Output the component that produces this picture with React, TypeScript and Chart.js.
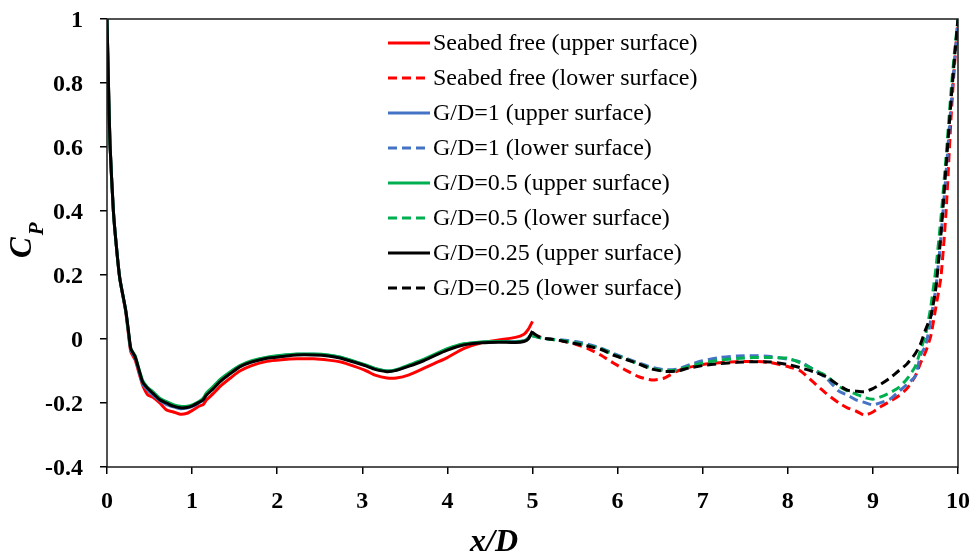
import React, { useEffect, useRef } from "react";
import { Chart, registerables } from "chart.js";

Chart.register(...registerables);

// ---------- data ----------
const upperX = [0, 0.015, 0.035, 0.075, 0.11, 0.15, 0.22, 0.25, 0.28, 0.33, 0.38, 0.42, 0.48, 0.54, 0.62, 0.7, 0.78, 0.86, 0.94, 1.01, 1.08, 1.13, 1.17, 1.25, 1.33, 1.45, 1.56, 1.7, 1.88, 2.05, 2.23, 2.43, 2.6, 2.75, 2.9, 3.05, 3.15, 3.29, 3.4, 3.55, 3.72, 3.85, 4.0, 4.19, 4.4, 4.6, 4.8, 4.9, 4.95, 5.0];

const lowerX = [5.0, 5.1, 5.2, 5.35, 5.5, 5.65, 5.8, 5.95, 6.1, 6.25, 6.4, 6.55, 6.7, 6.85, 7.0, 7.2, 7.4, 7.6, 7.8, 8.0, 8.15, 8.3, 8.45, 8.6, 8.7, 8.8, 8.9, 9.0, 9.1, 9.2, 9.3, 9.4, 9.5, 9.56, 9.62, 9.68, 9.74, 9.8, 9.86, 9.92, 9.96, 10.0];

const freeUpper = [1.0, 0.82, 0.61, 0.40, 0.29, 0.19, 0.085, 0.02, -0.04, -0.065,
  -0.11, -0.145, -0.175, -0.182, -0.2, -0.222, -0.228, -0.235, -0.232, -0.222,
  -0.21, -0.205, -0.19, -0.17, -0.148, -0.122, -0.1, -0.083, -0.07, -0.065,
  -0.062, -0.062, -0.066, -0.072, -0.085, -0.1, -0.113, -0.122, -0.122, -0.112,
  -0.092, -0.076, -0.058, -0.03, -0.012, -0.003, 0.005, 0.015, 0.03, 0.055];

const freeLower = [0.015, 0.005, 0.0, -0.006, -0.016, -0.03, -0.05, -0.075, -0.098, -0.118,
  -0.128, -0.122, -0.1, -0.088, -0.08, -0.074, -0.071, -0.07, -0.074, -0.086,
  -0.1, -0.135, -0.17, -0.2, -0.215, -0.225, -0.238, -0.228, -0.21, -0.195,
  -0.178, -0.155, -0.115, -0.075, -0.04, 0.01, 0.1, 0.195, 0.4, 0.7, 0.86, 1.0];

const gd1Upper = [1.0, 0.82, 0.61, 0.40, 0.29, 0.19, 0.088, 0.025, -0.035, -0.058,
  -0.105, -0.14, -0.16, -0.175, -0.192, -0.205, -0.212, -0.218, -0.216, -0.21,
  -0.2, -0.19, -0.172, -0.15, -0.128, -0.104, -0.085, -0.07, -0.058, -0.052,
  -0.048, -0.048, -0.051, -0.058, -0.07, -0.083, -0.093, -0.1, -0.097, -0.083,
  -0.066, -0.05, -0.032, -0.016, -0.01, -0.008, -0.008, -0.005, 0.003, 0.02];

const gd1Lower = [0.01, 0.004, 0.0, -0.003, -0.008, -0.016, -0.028, -0.045, -0.06, -0.075,
  -0.088, -0.096, -0.094, -0.08, -0.068, -0.058, -0.053, -0.052, -0.055, -0.063,
  -0.072, -0.095, -0.122, -0.163, -0.175, -0.19, -0.198, -0.206, -0.198, -0.188,
  -0.165, -0.142, -0.115, -0.05, -0.02, 0.06, 0.16, 0.32, 0.52, 0.74, 0.87, 1.0];

const gd05Upper = [1.0, 0.82, 0.61, 0.40, 0.29, 0.19, 0.09, 0.028, -0.03, -0.052,
  -0.098, -0.13, -0.152, -0.165, -0.185, -0.196, -0.205, -0.21, -0.21, -0.205,
  -0.195, -0.185, -0.168, -0.148, -0.126, -0.102, -0.083, -0.068, -0.057, -0.051,
  -0.047, -0.047, -0.05, -0.057, -0.069, -0.082, -0.092, -0.1, -0.096, -0.081,
  -0.064, -0.048, -0.03, -0.015, -0.009, -0.008, -0.009, -0.006, 0.002, 0.02];

const gd05Lower = [0.01, 0.003, -0.001, -0.005, -0.012, -0.02, -0.03, -0.048, -0.063, -0.078,
  -0.092, -0.099, -0.097, -0.085, -0.075, -0.066, -0.061, -0.058, -0.058, -0.06,
  -0.075, -0.095, -0.115, -0.148, -0.162, -0.172, -0.183, -0.188, -0.18, -0.168,
  -0.152, -0.125, -0.085, -0.035, 0.015, 0.1, 0.22, 0.38, 0.57, 0.78, 0.9, 1.0];

const gd025Upper = [1.0, 0.82, 0.61, 0.40, 0.29, 0.19, 0.09, 0.03, -0.03, -0.055,
  -0.1, -0.135, -0.155, -0.17, -0.19, -0.2, -0.21, -0.215, -0.214, -0.208,
  -0.198, -0.19, -0.175, -0.155, -0.133, -0.108, -0.087, -0.072, -0.06, -0.055,
  -0.05, -0.05, -0.053, -0.06, -0.072, -0.085, -0.095, -0.102, -0.098, -0.085,
  -0.068, -0.052, -0.035, -0.019, -0.012, -0.01, -0.011, -0.008, 0.0, 0.025];

const gd025Lower = [0.02, 0.003, 0.0, -0.006, -0.014, -0.022, -0.032, -0.05, -0.064, -0.078,
  -0.094, -0.101, -0.1, -0.09, -0.083, -0.077, -0.073, -0.071, -0.072, -0.08,
  -0.09, -0.102, -0.118, -0.145, -0.16, -0.163, -0.165, -0.155, -0.14, -0.122,
  -0.1, -0.078, -0.045, -0.015, 0.03, 0.07, 0.16, 0.33, 0.54, 0.75, 0.88, 1.0];

const seriesLabels = [
  "Seabed free (upper surface)",
  "Seabed free (lower surface)",
  "G/D=1 (upper surface)",
  "G/D=1 (lower surface)",
  "G/D=0.5 (upper surface)",
  "G/D=0.5 (lower surface)",
  "G/D=0.25 (upper surface)",
  "G/D=0.25 (lower surface)",
];

const xTicks = [0, 1, 2, 3, 4, 5, 6, 7, 8, 9, 10];
const yTicks = [-0.4, -0.2, 0, 0.2, 0.4, 0.6, 0.8, 1];

const RED = "#FF0000";
const BLUE = "#4472C4";
const GREEN = "#00B050";
const BLACK = "#000000";
const DASH = [9, 5];
const SERIF = "'Liberation Serif', 'Times New Roman', serif";

function pts(xs: number[], ys: number[]) {
  return xs.map((x, i) => ({ x, y: ys[i] }));
}

const framePlugin = {
  id: "frameAndTitles",
  afterDraw(chart: any) {
    const { ctx, chartArea } = chart;
    const { left, right, top, bottom } = chartArea;
    ctx.save();
    // frame
    ctx.strokeStyle = "#1a1a1a";
    ctx.lineWidth = 1.5;
    ctx.setLineDash([]);
    ctx.strokeRect(left, top, right - left, bottom - top);

    // legend
    const lx0 = 388;
    const lx1 = 430;
    const ly0 = 43;
    const dy = 35;
    ctx.font = `24px ${SERIF}`;
    ctx.textBaseline = "middle";
    ctx.textAlign = "left";
    chart.data.datasets.forEach((ds: any, i: number) => {
      const y = ly0 + dy * i;
      ctx.beginPath();
      ctx.strokeStyle = ds.borderColor;
      ctx.lineWidth = 3;
      ctx.setLineDash(ds.borderDash || []);
      ctx.moveTo(lx0, y);
      ctx.lineTo(lx1, y);
      ctx.stroke();
      ctx.setLineDash([]);
      ctx.fillStyle = "#000";
      ctx.fillText(ds.label, lx1 + 3, y + 1);
    });

    // x title
    ctx.fillStyle = "#000";
    ctx.font = `bold italic 32px ${SERIF}`;
    ctx.textAlign = "center";
    ctx.textBaseline = "alphabetic";
    ctx.fillText("x/D", 494, 551);

    // y title C_P
    ctx.translate(31, 258);
    ctx.rotate(-Math.PI / 2);
    ctx.textAlign = "left";
    ctx.font = `bold italic 31px ${SERIF}`;
    ctx.fillText("C", 0, 0);
    const cw = ctx.measureText("C").width;
    ctx.font = `bold italic 21px ${SERIF}`;
    ctx.fillText("P", cw + 2, 12);
    ctx.restore();
  },
};

export default function App() {
  const ref = useRef<HTMLCanvasElement | null>(null);

  useEffect(() => {
    document.body.style.margin = "0";
    if (!ref.current) return;
    const colors = [RED, RED, BLUE, BLUE, GREEN, GREEN, BLACK, BLACK];
    const data = [
      pts(upperX, freeUpper),
      pts(lowerX, freeLower),
      pts(upperX, gd1Upper),
      pts(lowerX, gd1Lower),
      pts(upperX, gd05Upper),
      pts(lowerX, gd05Lower),
      pts(upperX, gd025Upper),
      pts(lowerX, gd025Lower),
    ];
    const datasets = seriesLabels.map((label, i) => ({
      label,
      data: data[i],
      borderColor: colors[i],
      backgroundColor: colors[i],
      borderWidth: 3,
      borderDash: i % 2 === 1 ? DASH : [],
      pointRadius: 0,
      tension: 0.2,
      fill: false,
      order: 7 - i,
    }));

    const tickFont = { family: SERIF, size: 24, weight: "bold" as const };
    const chart = new Chart(ref.current, {
      type: "line",
      data: { datasets },
      plugins: [framePlugin],
      options: {
        responsive: false,
        animation: false,
        layout: { padding: { top: 19, right: 16, left: 0, bottom: 0 } },
        plugins: {
          legend: { display: false },
          tooltip: { enabled: false },
        },
        scales: {
          x: {
            type: "linear",
            min: 0,
            max: 10,
            afterFit: (s: any) => {
              s.height = 88;
              s.paddingLeft = 0;
              s.paddingRight = 0;
            },
            afterBuildTicks: (s: any) => {
              s.ticks = xTicks.map((v) => ({ value: v }));
            },
            ticks: {
              color: "#000",
              font: tickFont,
              padding: 13,
              maxRotation: 0,
              callback: (v: any) => String(v),
            },
            grid: {
              drawOnChartArea: false,
              drawTicks: true,
              tickLength: 7,
              color: "#000",
              lineWidth: 1.5,
            },
            border: { display: false },
          },
          y: {
            type: "linear",
            min: -0.4,
            max: 1,
            afterFit: (s: any) => {
              s.width = 107;
              s.paddingTop = 0;
              s.paddingBottom = 0;
            },
            afterBuildTicks: (s: any) => {
              s.ticks = yTicks.map((v) => ({ value: v }));
            },
            ticks: {
              color: "#000",
              font: tickFont,
              padding: 17,
              labelOffset: 2,
              callback: (v: any) => String(Number(Number(v).toFixed(1))),
            },
            grid: {
              drawOnChartArea: false,
              drawTicks: true,
              tickLength: 7,
              color: "#000",
              lineWidth: 1.5,
            },
            border: { display: false },
          },
        },
      },
    });
    return () => chart.destroy();
  }, []);

  return (
    <div style={{ position: "absolute", left: 0, top: 0, width: 974, height: 555, background: "#fff" }}>
      <canvas ref={ref} width={974} height={555} style={{ display: "block" }} />
    </div>
  );
}
